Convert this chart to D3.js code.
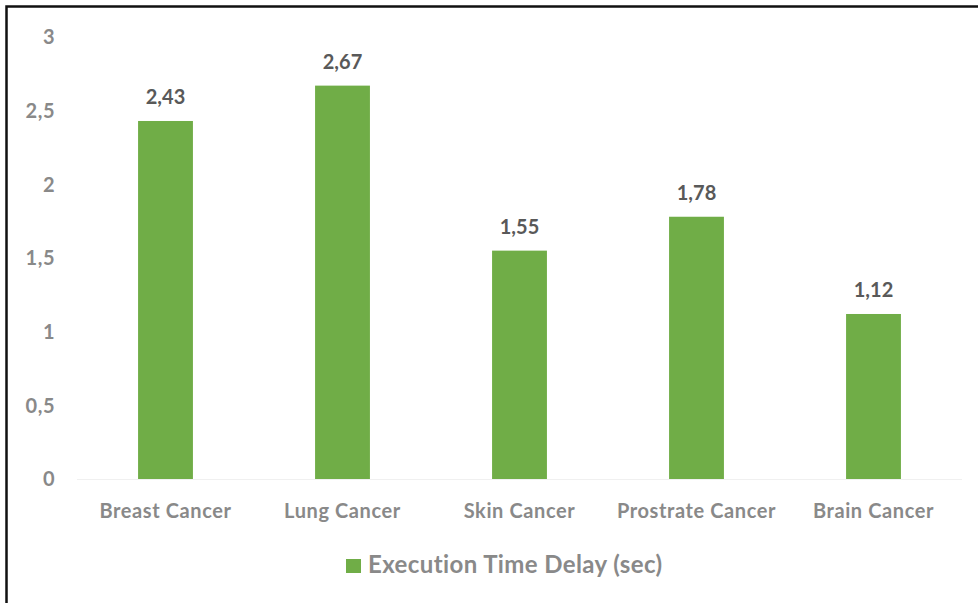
<!DOCTYPE html>
<html>
<head>
<meta charset="utf-8">
<script src="https://cdn.jsdelivr.net/npm/d3@7"></script>
<style>
  body { margin: 0; background: #fff; }
  text { font-family: Lato, "Open Sans", sans-serif; font-weight: bold; }
</style>
</head>
<body>
<svg id="chart" width="978" height="603"></svg>
<script>
// data
var categories = ["Breast Cancer", "Lung Cancer", "Skin Cancer", "Prostrate Cancer", "Brain Cancer"];
var delays = [2.43, 2.67, 1.55, 1.78, 1.12];
var yTicks = [0, 0.5, 1, 1.5, 2, 2.5, 3];
var seriesName = "Execution Time Delay (sec)";

var svg = d3.select("#chart");
var green = "#70ad47";
var axisGrey = "#898989";

// outer frame (right and bottom edges fall outside the picture)
svg.append("rect")
    .attr("x", 6.5).attr("y", 6.5)
    .attr("width", 1000).attr("height", 1000)
    .attr("fill", "none")
    .attr("stroke", "#111")
    .attr("stroke-width", 2.5);

var x = d3.scaleBand()
    .domain(categories)
    .range([77, 962])
    .paddingInner(0.69)
    .paddingOuter(0.345);

var y = d3.scaleLinear()
    .domain([0, 3])
    .range([479, 37]);

function fmt(v) { return String(v).replace(".", ","); }

// y labels, no axis line
svg.append("g").selectAll("text")
    .data(yTicks)
    .join("text")
    .attr("x", 55)
    .attr("y", function (d) { return y(d); })
    .attr("dy", "0.36em")
    .attr("text-anchor", "end")
    .attr("fill", axisGrey)
    .attr("font-size", "20px")
    .attr("letter-spacing", "0.5px")
    .text(fmt);

// baseline
svg.append("line")
    .attr("x1", 77).attr("x2", 962)
    .attr("y1", y(0) + 0.5).attr("y2", y(0) + 0.5)
    .attr("stroke", "#f0f0f0")
    .attr("stroke-width", 1);

svg.append("g").selectAll("rect")
    .data(delays)
    .join("rect")
    .attr("x", function (d, i) { return x(categories[i]); })
    .attr("y", function (d) { return y(d); })
    .attr("width", x.bandwidth())
    .attr("height", function (d) { return y(0) - y(d); })
    .attr("fill", green);

// value labels
svg.append("g").selectAll("text")
    .data(delays)
    .join("text")
    .attr("x", function (d, i) { return x(categories[i]) + x.bandwidth() / 2; })
    .attr("y", function (d) { return y(d) - 17; })
    .attr("text-anchor", "middle")
    .attr("fill", "#595959")
    .attr("font-size", "20px")
    .text(fmt);

// category labels
svg.append("g").selectAll("text")
    .data(categories)
    .join("text")
    .attr("x", function (d) { return x(d) + x.bandwidth() / 2; })
    .attr("y", 518)
    .attr("text-anchor", "middle")
    .attr("fill", axisGrey)
    .attr("font-size", "20px")
    .attr("letter-spacing", "0.6px")
    .text(function (d) { return d; });

// legend
var legend = svg.append("g");
legend.append("rect")
    .attr("x", 346).attr("y", 559)
    .attr("width", 15).attr("height", 14)
    .attr("fill", green);
legend.append("text")
    .attr("x", 368).attr("y", 573)
    .attr("fill", axisGrey)
    .attr("font-size", "24px")
    .attr("letter-spacing", "0.4px")
    .text(seriesName);
</script>
</body>
</html>
